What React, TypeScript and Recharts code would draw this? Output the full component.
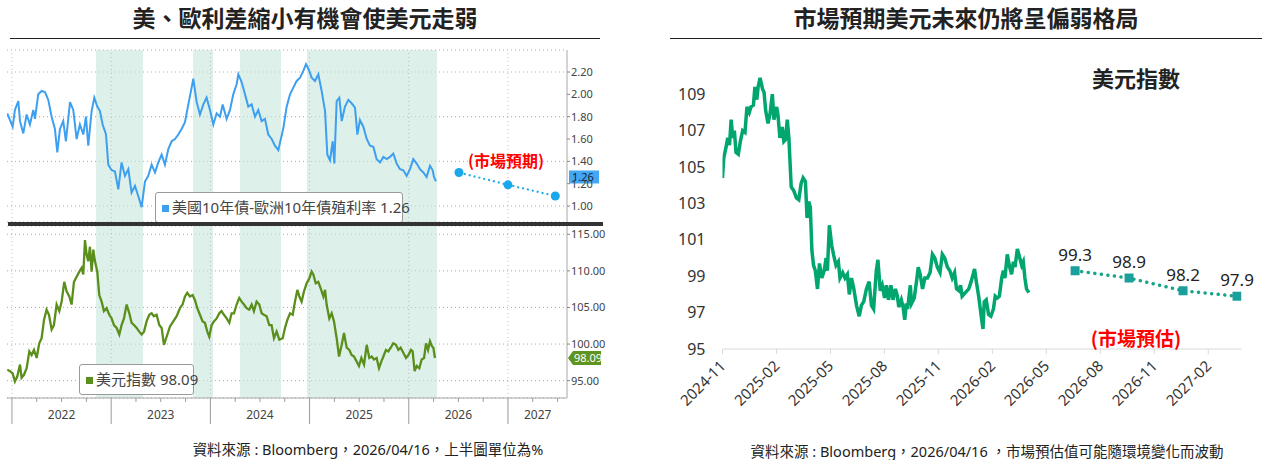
import React from 'react';
import {
  LineChart,
  Line,
  XAxis,
  YAxis,
  CartesianGrid,
  ReferenceArea,
  ReferenceLine,
  ReferenceDot,
  LabelList,
} from 'recharts';

// ---- left panel: US10Y - Bund10Y spread (top) and DXY (bottom), x in decimal years ----
const spreadYears = [
  2021.953, 2021.98, 2022.007, 2022.03, 2022.064, 2022.081, 2022.114, 2022.148, 2022.181, 2022.215,
  2022.232, 2022.265, 2022.299, 2022.333, 2022.366, 2022.4, 2022.433, 2022.457, 2022.484, 2022.517,
  2022.544, 2022.585, 2022.618, 2022.652, 2022.685, 2022.719, 2022.746, 2022.769, 2022.803, 2022.83,
  2022.86, 2022.887, 2022.914, 2022.948, 2022.971, 2023.005, 2023.038, 2023.072, 2023.105, 2023.139,
  2023.173, 2023.206, 2023.24, 2023.273, 2023.307, 2023.341, 2023.374, 2023.408, 2023.442, 2023.475,
  2023.509, 2023.542, 2023.576, 2023.61, 2023.643, 2023.677, 2023.71, 2023.744, 2023.778, 2023.811,
  2023.828, 2023.862, 2023.895, 2023.929, 2023.962, 2023.996, 2024.03, 2024.063, 2024.097, 2024.124,
  2024.164, 2024.198, 2024.231, 2024.265, 2024.282, 2024.315, 2024.349, 2024.382, 2024.416, 2024.45,
  2024.483, 2024.517, 2024.55, 2024.584, 2024.618, 2024.651, 2024.685,
  2024.736, 2024.769, 2024.803, 2024.836, 2024.87, 2024.904, 2024.937, 2024.964, 2024.988, 2025.021,
  2025.055, 2025.088, 2025.122, 2025.156, 2025.179, 2025.206, 2025.233, 2025.25, 2025.273, 2025.3,
  2025.324, 2025.357, 2025.391, 2025.424, 2025.458, 2025.482, 2025.508, 2025.542, 2025.576, 2025.609,
  2025.643, 2025.676, 2025.71, 2025.744, 2025.777, 2025.811, 2025.844, 2025.878, 2025.912, 2025.945,
  2025.979, 2026.012, 2026.046, 2026.08, 2026.113, 2026.147, 2026.18, 2026.214, 2026.241, 2026.254, 2026.274,
];
const spreadValues = [
  1.83, 1.77, 1.71, 1.86, 1.94, 1.76, 1.65, 1.82, 1.73, 1.86,
  1.78, 2.0, 2.03, 2.02, 1.95, 1.8, 1.69, 1.48, 1.69, 1.76,
  1.58, 1.93, 1.86, 1.6, 1.73, 1.64, 1.8, 1.54, 1.85, 1.97,
  1.89, 1.85, 1.73, 1.64, 1.37, 1.32, 1.31, 1.15, 1.39, 1.27,
  1.33, 1.12, 1.18, 1.09, 0.99, 1.22, 1.27, 1.37, 1.3, 1.39,
  1.46, 1.37, 1.51, 1.58, 1.6, 1.64, 1.69, 1.75, 1.91, 2.06,
  2.14, 1.93, 1.82, 1.91, 1.97, 1.86, 1.73, 1.83, 1.8, 1.91,
  1.78, 1.86, 2.0, 2.09, 2.18, 2.11, 2.0, 1.89, 1.91, 1.8,
  1.86, 1.76, 1.78, 1.64, 1.6, 1.54, 1.5,
  1.7, 1.89, 2.0, 2.06, 2.12, 2.15, 2.21, 2.27, 2.23, 2.15,
  2.12, 2.18, 2.03, 1.85, 1.46, 1.41, 1.58, 1.38, 1.94, 1.97,
  1.76, 1.89, 1.95, 1.92, 1.88, 1.64, 1.77, 1.71, 1.6, 1.54,
  1.53, 1.42, 1.39, 1.44, 1.42, 1.44, 1.47, 1.38, 1.33, 1.32,
  1.27, 1.33, 1.42, 1.38, 1.33, 1.3, 1.26, 1.36, 1.32, 1.26, 1.22,
];
const spreadForecastYears = [2026.506, 2027.0, 2027.477];
const spreadForecastValues = [1.3, 1.19, 1.09];

const dxyYears = [
  2021.953, 2021.98, 2022.007, 2022.03, 2022.054, 2022.081, 2022.097, 2022.121, 2022.148, 2022.175,
  2022.198, 2022.222, 2022.249, 2022.275, 2022.299, 2022.323, 2022.349, 2022.373, 2022.4, 2022.423,
  2022.45, 2022.477, 2022.501, 2022.527, 2022.551, 2022.578, 2022.601, 2022.625, 2022.652, 2022.679,
  2022.702, 2022.719, 2022.736, 2022.753, 2022.769, 2022.786, 2022.803, 2022.82, 2022.837, 2022.86,
  2022.88, 2022.904, 2022.927, 2022.954, 2022.981, 2023.005, 2023.028, 2023.055, 2023.082, 2023.105,
  2023.129, 2023.156, 2023.183, 2023.206, 2023.23, 2023.257, 2023.283, 2023.307, 2023.331, 2023.357,
  2023.384, 2023.408, 2023.431, 2023.458, 2023.485, 2023.509, 2023.532, 2023.559, 2023.593, 2023.626,
  2023.66, 2023.693, 2023.72, 2023.744, 2023.767, 2023.794, 2023.821, 2023.845, 2023.868, 2023.895,
  2023.922, 2023.945, 2023.969, 2023.989, 2024.013, 2024.036, 2024.063, 2024.09, 2024.113, 2024.137,
  2024.164, 2024.191, 2024.214, 2024.238, 2024.265, 2024.291, 2024.315, 2024.339, 2024.365, 2024.392,
  2024.416, 2024.439, 2024.466, 2024.493, 2024.517, 2024.54, 2024.567, 2024.594, 2024.617, 2024.641,
  2024.668, 2024.695, 2024.729, 2024.752, 2024.776, 2024.803, 2024.83, 2024.853, 2024.877, 2024.897,
  2024.92, 2024.944, 2024.971, 2024.998, 2025.021, 2025.038, 2025.062, 2025.088, 2025.112, 2025.139,
  2025.156, 2025.172, 2025.199, 2025.223, 2025.246, 2025.273, 2025.297, 2025.324, 2025.347, 2025.374,
  2025.401, 2025.424, 2025.448, 2025.475, 2025.498, 2025.522, 2025.549, 2025.576, 2025.602, 2025.626,
  2025.65, 2025.676, 2025.7, 2025.723, 2025.744, 2025.77, 2025.794, 2025.818, 2025.844, 2025.871,
  2025.895, 2025.918, 2025.945, 2025.972, 2025.996, 2026.022, 2026.039, 2026.059, 2026.08, 2026.106,
  2026.13, 2026.154, 2026.174, 2026.194, 2026.214, 2026.234, 2026.248, 2026.264,
];
const dxyValues = [
  96.5, 96.3, 96.0, 94.9, 95.6, 97.2, 95.4, 95.8, 96.7, 99.0,
  98.5, 99.2, 98.1, 100.1, 100.8, 103.3, 104.7, 104.0, 102.0, 102.6,
  105.4, 104.5, 105.8, 108.5, 107.2, 106.5, 105.4, 108.5, 109.2, 109.9,
  110.4, 109.5, 114.2, 112.2, 111.3, 113.3, 109.9, 112.9, 111.3, 109.9,
  106.7, 105.8, 104.5, 104.9, 104.0, 103.5, 102.6, 102.2, 101.3, 102.6,
  103.5, 105.4, 104.2, 102.9, 102.6, 102.2, 101.7, 101.3, 101.7, 103.1,
  104.0, 104.2, 103.8, 104.0, 102.6, 102.2, 99.9, 101.0, 102.4, 103.1,
  103.8, 104.9, 105.4, 106.5, 107.0, 106.5, 106.7, 106.0, 104.9, 104.0,
  103.1, 102.9, 101.7, 101.0, 102.6, 103.1, 103.5, 104.2, 104.5, 104.0,
  103.5, 102.9, 104.2, 104.2, 105.4, 106.3, 105.8, 105.4, 104.9, 104.7,
  105.4, 104.5, 105.8, 105.4, 104.2, 104.0, 103.8, 102.6, 102.6, 100.8,
  101.7, 100.6, 100.8, 102.2, 103.3, 104.2, 104.0, 105.8, 107.4, 106.5,
  105.8, 107.2, 108.3, 109.0, 109.9, 109.5, 108.3, 108.5, 107.6, 106.5,
  107.4, 105.4, 103.5, 104.2, 103.1, 100.8, 98.3, 99.9, 101.5, 99.5,
  99.2, 98.5, 98.3, 97.6, 97.0, 98.1, 97.2, 99.9, 98.1, 98.3,
  97.9, 98.1, 96.7, 97.6, 98.3, 99.2, 99.0, 99.5, 100.1, 99.9,
  99.2, 99.5, 98.8, 98.1, 98.5, 99.2, 99.0, 96.3, 97.0, 96.7,
  97.9, 98.1, 100.1, 99.2, 100.4, 99.7, 99.5, 98.1,
];

// periods shaded in the Bloomberg chart
const shadeStart = [2022.847, 2023.825, 2024.298, 2024.974];
const shadeEnd = [2023.321, 2024.026, 2024.712, 2026.284];

const yearLines = [2022, 2023, 2024, 2025, 2026, 2027];
const quarterTicks = [
  2022, 2022.25, 2022.5, 2022.75, 2023, 2023.25, 2023.5, 2023.75, 2024, 2024.25, 2024.5, 2024.75,
  2025, 2025.25, 2025.5, 2025.75, 2026, 2026.25, 2026.5, 2026.75, 2027, 2027.25, 2027.5,
];
const yearLabelPos = [2022.5, 2023.5, 2024.5, 2025.5, 2026.5, 2027.3];
const yearLabels = ['2022', '2023', '2024', '2025', '2026', '2027'];
const spreadTicks = [1.0, 1.2, 1.4, 1.6, 1.8, 2.0, 2.2];
const dxyTicks = [95, 100, 105, 110, 115];
const lastSpread = 1.26;
const lastDxy = 98.09;

// ---- right panel: DXY since 2024-11, x in months from 2024-11-01 ----
const dxyMonths = [
  0.0, 0.07, 0.2, 0.29, 0.39, 0.48, 0.57, 0.66, 0.75, 0.88,
  0.99, 1.12, 1.25, 1.36, 1.49, 1.58, 1.72, 1.8, 1.91, 1.98,
  2.09, 2.22, 2.31, 2.4, 2.53, 2.64, 2.77, 2.86, 3.01, 3.08,
  3.19, 3.32, 3.41, 3.5, 3.6, 3.69, 3.82, 3.96, 4.11, 4.24,
  4.37, 4.48, 4.61, 4.7, 4.79, 4.88, 4.97, 5.06, 5.16, 5.28,
  5.39, 5.52, 5.65, 5.76, 5.83, 5.94, 6.07, 6.17, 6.31, 6.44,
  6.53, 6.68, 6.81, 6.94, 7.05, 7.17, 7.3, 7.45, 7.6, 7.72,
  7.85, 8.0, 8.15, 8.28, 8.4, 8.55, 8.64, 8.77, 8.88, 9.01,
  9.11, 9.23, 9.36, 9.48, 9.61, 9.72, 9.8, 9.94, 10.04, 10.13,
  10.22, 10.29, 10.44, 10.51, 10.66, 10.81, 10.88, 10.99, 11.12, 11.25,
  11.39, 11.54, 11.67, 11.8, 11.94, 12.09, 12.22, 12.35, 12.5, 12.64,
  12.77, 12.9, 13.01, 13.14, 13.23, 13.32, 13.5, 13.69, 13.82, 13.93,
  14.01, 14.11, 14.24, 14.37, 14.48, 14.55, 14.66, 14.79, 14.92, 15.06,
  15.16, 15.28, 15.39, 15.52, 15.61, 15.7, 15.83, 15.94, 16.07, 16.17,
  16.26, 16.39, 16.5, 16.63, 16.72, 16.81, 16.9, 17.03,
];
const dxyRecent = [
  104.4, 105.5, 106.1, 106.6, 106.2, 107.6, 106.6, 107.0, 105.8, 105.7,
  106.4, 107.0, 106.9, 108.3, 108.0, 108.3, 108.4, 109.4, 108.7, 109.4,
  109.9, 109.3, 109.1, 108.1, 107.4, 107.9, 109.0, 107.6, 108.3, 107.9,
  106.6, 107.2, 106.4, 106.5, 107.6, 106.6, 103.9, 103.7, 103.3, 103.2,
  104.1, 104.4, 104.2, 102.2, 103.1, 102.8, 100.4, 99.6, 99.3, 98.3,
  99.7, 98.9, 99.3, 100.0, 99.3, 101.8, 100.7, 100.2, 99.6, 99.8,
  98.9, 99.2, 98.9, 99.1, 98.0, 98.9, 98.3, 97.4, 96.8, 97.4,
  97.6, 98.3, 98.7, 97.4, 97.2, 99.3, 99.9, 98.2, 98.5, 97.8,
  98.5, 97.7, 98.5, 97.7, 98.3, 97.9, 97.3, 97.7, 97.3, 96.6,
  97.5, 97.2, 98.5, 97.5, 97.8, 98.9, 99.5, 99.1, 98.3, 98.9,
  98.9, 99.2, 100.2, 100.0, 99.5, 99.2, 100.2, 100.0, 99.5, 99.3,
  98.9, 99.2, 98.3, 98.2, 98.5, 97.9, 98.1, 98.3, 98.7, 99.1,
  99.4, 98.7, 97.9, 96.9, 96.1, 97.6, 97.7, 96.9, 96.8, 97.2,
  97.9, 97.8, 97.9, 98.9, 99.3, 98.9, 100.2, 99.6, 99.1, 99.8,
  99.5, 100.5, 100.1, 99.6, 99.8, 98.9, 98.3, 98.1,
];
const forecastMonths = [19.6, 22.6, 25.6, 28.6];
const forecastValues = [99.3, 98.9, 98.2, 97.9];
const monthTicks = [0, 3, 6, 9, 12, 15, 18, 21, 24, 27];
const monthLabels = [
  '2024-11', '2025-02', '2025-05', '2025-08', '2025-11',
  '2026-02', '2026-05', '2026-08', '2026-11', '2027-02',
];
const rightYTicks = [95, 97, 99, 101, 103, 105, 107, 109];

const LEFT_DOMAIN: [number, number] = [2021.95, 2027.595];
const SANS = "'Noto Sans', 'Noto Sans CJK TC', sans-serif";
const CJK = "'Noto Sans CJK TC', sans-serif";

const zip = (xs: number[], ys: number[], key: string) =>
  xs.slice(0, Math.min(xs.length, ys.length)).map((x, i) => ({ [key]: x, v: ys[i] }));

const spreadData = zip(spreadYears, spreadValues, 't');
const spreadForecast = zip(spreadForecastYears, spreadForecastValues, 't');
const dxyData = zip(dxyYears, dxyValues, 't');
const recentData = zip(dxyMonths, dxyRecent, 'm');
const forecastData = zip(forecastMonths, forecastValues, 'm');
const bottomTicks = Array.from(new Set([...quarterTicks, ...yearLabelPos])).sort((a, b) => a - b);

const YearTick = (props: any) => {
  const { x, y, payload } = props;
  const v = payload.value;
  const li = yearLabelPos.indexOf(v);
  return (
    <g>
      {quarterTicks.includes(v) && (
        <line x1={x} x2={x} y1={y} y2={y + (yearLines.includes(v) ? 26 : 4)} stroke="#9a9a9a" />
      )}
      {li >= 0 && (
        <text x={x} y={y + 21} textAnchor="middle" fontSize={12} fill="#444">
          {yearLabels[li]}
        </text>
      )}
    </g>
  );
};

const SpreadTag = (props: any) => {
  const { cx, cy } = props;
  return (
    <g>
      <rect x={cx + 2} y={cy - 6.5} width={30} height={13} fill="#45a6f3" />
      <text x={cx + 5} y={cy + 4} fontSize={11} fill="#0d2233">
        {lastSpread.toFixed(2)}
      </text>
    </g>
  );
};

const DxyTag = (props: any) => {
  const { cx, cy } = props;
  const pts = `${cx + 1},${cy} ${cx + 6},${cy - 7} ${cx + 34},${cy - 7} ${cx + 34},${cy + 7} ${cx + 6},${cy + 7}`;
  return (
    <g>
      <polygon points={pts} fill="#5e9420" />
      <text x={cx + 7} y={cy + 4} fontSize={11} fill="#fff">
        {lastDxy.toFixed(2)}
      </text>
    </g>
  );
};

const MonthTick = (props: any) => {
  const { x, y, payload } = props;
  const i = monthTicks.indexOf(payload.value);
  const tx = x + 4;
  const ty = y + 13;
  return (
    <text x={tx} y={ty} textAnchor="end" fontSize={15} fill="#333" transform={`rotate(-45 ${tx} ${ty})`}>
      {i >= 0 ? monthLabels[i] : ''}
    </text>
  );
};

const SquareDot = (props: any) => {
  const { cx, cy } = props;
  if (cx == null || cy == null) return null;
  return <rect x={cx - 4.5} y={cy - 4.5} width={9} height={9} fill="#1a9f9c" />;
};

const abs = (left: number, top: number, extra: React.CSSProperties = {}): React.CSSProperties => ({
  position: 'absolute',
  left,
  top,
  ...extra,
});

const LegendBox: React.FC<{ left: number; top: number; width: number; color: string; text: string }> = ({
  left,
  top,
  width,
  color,
  text,
}) => (
  <div
    style={abs(left, top, {
      width,
      height: 31,
      boxSizing: 'border-box',
      border: '1px solid #9a9a9a',
      borderRadius: 3,
      background: '#fff',
      fontSize: 15,
      lineHeight: '29px',
      color: '#444',
      paddingLeft: 6,
      whiteSpace: 'nowrap',
      fontFamily: SANS,
    })}
  >
    <span style={{ display: 'inline-block', width: 7, height: 7, background: color, marginRight: 3, verticalAlign: 'middle' }} />
    {text}
  </div>
);

const App: React.FC = () => {
  return (
    <div style={abs(0, 0, { width: 1269, height: 460, background: '#fff', fontFamily: SANS, overflow: 'hidden' })}>
      {/* titles */}
      <div style={abs(10, 6, { width: 590, textAlign: 'center', fontSize: 23, lineHeight: '23px', fontWeight: 700, color: '#222', fontFamily: CJK })}>
        美、歐利差縮小有機會使美元走弱
      </div>
      <div style={abs(10, 38, { width: 590, height: 1, background: '#222' })} />
      <div style={abs(670, 6, { width: 592, textAlign: 'center', fontSize: 23, lineHeight: '23px', fontWeight: 700, color: '#222', fontFamily: CJK })}>
        市場預期美元未來仍將呈偏弱格局
      </div>
      <div style={abs(670, 38, { width: 592, height: 1, background: '#222' })} />

      {/* left top: spread */}
      <div style={abs(0, 40)}>
        <LineChart width={610} height={190} margin={{ top: 10, right: 3, bottom: 8, left: 7 }}>
          <XAxis type="number" dataKey="t" domain={LEFT_DOMAIN} allowDataOverflow hide />
          <YAxis
            orientation="right"
            width={40}
            type="number"
            domain={[0.857, 2.397]}
            allowDataOverflow
            ticks={spreadTicks}
            tickFormatter={(v: number) => v.toFixed(2)}
            tick={{ fontSize: 11, fill: '#444' }}
            tickSize={3}
            tickMargin={1}
            axisLine={{ stroke: '#a8a8a8' }}
            tickLine={{ stroke: '#888' }}
          />
          {shadeStart.map((s, i) => (
            <ReferenceArea key={i} x1={s} x2={shadeEnd[i]} fill="#c8e6dc" fillOpacity={0.6} stroke="none" />
          ))}
          <CartesianGrid vertical={false} strokeDasharray="1 3" stroke="#aaa" />
          {yearLines.map((y) => (
            <ReferenceLine key={y} x={y} stroke="#bbb" strokeDasharray="1 3" />
          ))}
          <Line data={spreadData} dataKey="v" stroke="#3d9ff0" strokeWidth={2} dot={false} isAnimationActive={false} />
          <Line
            data={spreadForecast}
            dataKey="v"
            stroke="#1aa8ec"
            strokeWidth={2}
            strokeDasharray="2 3"
            dot={{ r: 4.5, fill: '#1aa8ec', stroke: 'none' }}
            isAnimationActive={false}
          />
          <ReferenceDot x={LEFT_DOMAIN[1]} y={lastSpread} r={0} ifOverflow="visible" shape={(p: any) => <SpreadTag {...p} />} />
        </LineChart>
      </div>

      {/* left bottom: DXY */}
      <div style={abs(0, 226)}>
        <LineChart width={610} height={200} margin={{ top: 0, right: 3, bottom: 0, left: 7 }}>
          <XAxis
            type="number"
            dataKey="t"
            domain={LEFT_DOMAIN}
            allowDataOverflow
            ticks={bottomTicks}
            interval={0}
            height={28}
            tickSize={0}
            tickMargin={0}
            tickLine={false}
            axisLine={{ stroke: '#a8a8a8' }}
            tick={<YearTick />}
          />
          <YAxis
            orientation="right"
            width={40}
            type="number"
            domain={[92.63, 116.13]}
            allowDataOverflow
            ticks={dxyTicks}
            tickFormatter={(v: number) => v.toFixed(2)}
            tick={{ fontSize: 11, fill: '#444' }}
            tickSize={3}
            tickMargin={1}
            axisLine={{ stroke: '#a8a8a8' }}
            tickLine={{ stroke: '#888' }}
          />
          {shadeStart.map((s, i) => (
            <ReferenceArea key={i} x1={s} x2={shadeEnd[i]} fill="#c8e6dc" fillOpacity={0.6} stroke="none" />
          ))}
          <CartesianGrid vertical={false} strokeDasharray="1 3" stroke="#aaa" />
          {yearLines.map((y) => (
            <ReferenceLine key={y} x={y} stroke="#bbb" strokeDasharray="1 3" />
          ))}
          <Line data={dxyData} dataKey="v" stroke="#5a8f1c" strokeWidth={2.3} dot={false} isAnimationActive={false} />
          <ReferenceDot x={LEFT_DOMAIN[1]} y={lastDxy} r={0} ifOverflow="visible" shape={(p: any) => <DxyTag {...p} />} />
        </LineChart>
      </div>

      <LegendBox left={155} top={192} width={248} color="#3d9ff0" text={`美國10年債-歐洲10年債殖利率 ${lastSpread.toFixed(2)}`} />
      <LegendBox left={79} top={364} width={115} color="#5a8f1c" text={`美元指數 ${lastDxy.toFixed(2)}`} />
      <div style={abs(8, 222, { width: 595, height: 4, background: '#333' })} />
      <div style={abs(446, 150, { width: 120, textAlign: 'center', fontSize: 16, lineHeight: '20px', fontWeight: 700, color: '#ff0000', fontFamily: CJK })}>
        (市場預期)
      </div>

      {/* right: DXY recent + forecast */}
      <div style={abs(660, 40)}>
        <LineChart width={600} height={420} margin={{ top: 36, right: 18.5, bottom: 41, left: 22.5 }}>
          <XAxis
            type="number"
            dataKey="m"
            domain={[0, 28.85]}
            allowDataOverflow
            ticks={monthTicks}
            interval={0}
            height={70}
            tickSize={5}
            tickMargin={0}
            axisLine={{ stroke: '#d9d9d9' }}
            tickLine={{ stroke: '#d9d9d9' }}
            tick={<MonthTick />}
          />
          <YAxis
            type="number"
            width={40}
            domain={[95, 110]}
            allowDataOverflow
            ticks={rightYTicks}
            tick={{ fontSize: 16, fill: '#333' }}
            tickSize={0}
            tickMargin={17}
            axisLine={false}
            tickLine={false}
          />
          <Line data={recentData} dataKey="v" stroke="#00a66e" strokeWidth={3.5} dot={false} isAnimationActive={false} />
          <Line
            data={forecastData}
            dataKey="v"
            stroke="#15a68a"
            strokeWidth={3.5}
            strokeLinecap="round"
            strokeDasharray="0.1 6.5"
            dot={<SquareDot />}
            isAnimationActive={false}
          >
            <LabelList dataKey="v" position="top" offset={10} fontSize={17} fill="#222" formatter={(v: any) => Number(v).toFixed(1)} />
          </Line>
        </LineChart>
      </div>
      <div style={abs(1066, 64, { width: 140, textAlign: 'center', fontSize: 22, lineHeight: '26px', fontWeight: 700, color: '#222', fontFamily: CJK })}>
        美元指數
      </div>
      <div style={abs(1066, 326, { width: 140, textAlign: 'center', fontSize: 19, lineHeight: '24px', fontWeight: 700, color: '#ff0000', fontFamily: CJK })}>
        (市場預估)
      </div>

      {/* footers */}
      <div style={abs(118, 441, { width: 500, textAlign: 'center', fontSize: 14.5, lineHeight: '16px', color: '#222' })}>
        資料來源 : Bloomberg，2026/04/16，上半圖單位為%
      </div>
      <div style={abs(712, 443, { width: 550, textAlign: 'center', fontSize: 14.5, lineHeight: '16px', color: '#222' })}>
        資料來源 : Bloomberg，2026/04/16 ，市場預估值可能隨環境變化而波動
      </div>
    </div>
  );
};

export default App;
